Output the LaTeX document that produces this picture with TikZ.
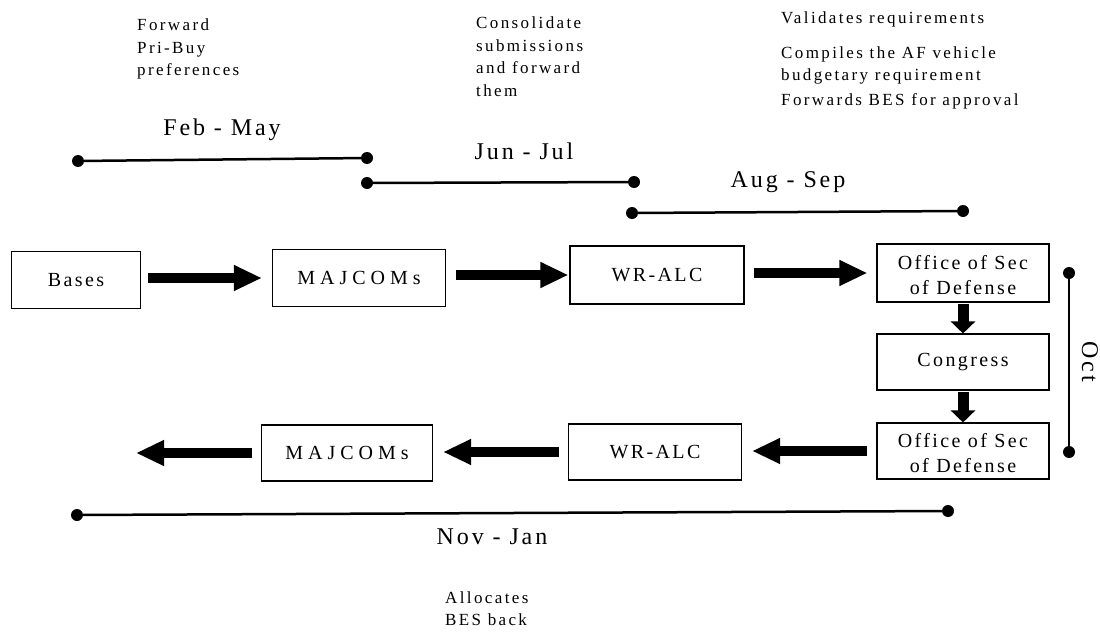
\documentclass[tikz,border=0pt]{standalone}
\usepackage{fontspec}
\setmainfont{Liberation Serif}
\newfontfamily\boxfont[LetterSpace=12]{Liberation Serif}
\newfontfamily\widefont[LetterSpace=25]{Liberation Serif}
\newfontfamily\notefont[LetterSpace=14]{Liberation Serif}
\newfontfamily\monthfont[LetterSpace=12]{Liberation Serif}
\usetikzlibrary{arrows.meta}
\begin{document}
\begin{tikzpicture}[x=1pt,y=-1pt,
  stage/.style={draw, line width=1.1pt, inner sep=0pt, align=center,
    font=\boxfont\fontsize{20}{25}\selectfont},
  wide/.style={font=\widefont\fontsize{20}{25}\selectfont},
  harrow/.style={line width=10pt, -{Triangle[length=28pt,width=24pt]}},
  varrow/.style={line width=11pt, -{Triangle[length=12pt,width=24pt]}},
  tl/.style={line width=2.5pt},
  dot/.style={circle, fill=black, inner sep=0pt, minimum size=12pt},
  month/.style={font=\monthfont\fontsize{24}{28}\selectfont, inner sep=0pt},
  note/.style={font=\notefont\fontsize{17}{22.5}\selectfont, inner sep=0pt, align=left}]
\useasboundingbox (0,0) rectangle (1100,634);
\fill[white] (0,0) rectangle (1100,634);

% boxes
\node[stage, minimum width=129pt, minimum height=57pt] (bases) at (76,280) {Bases};
\node[stage, wide, minimum width=173pt, minimum height=57pt] (maj1) at (359,278) {MAJCOMs};
\node[stage, minimum width=174pt, minimum height=58pt] (wr1) at (657,275) {WR-ALC};
\node[stage, minimum width=172pt, minimum height=58pt] (osd1) at (963,273) {\strut Office of Sec\\of Defense};
\node[stage, minimum width=172pt, minimum height=56pt] (cong) at (963,362) {Congress};
\node[stage, minimum width=172pt, minimum height=56pt] (osd2) at (963,451) {\strut Office of Sec\\of Defense};
\node[stage, minimum width=173pt, minimum height=56pt] (wr2) at (655,452) {WR-ALC};
\node[stage, wide, minimum width=171pt, minimum height=56pt] (maj2) at (347,453) {MAJCOMs};
\coordinate (out) at (136,453);

% block arrows
\draw[harrow, shorten <=7pt, shorten >=10pt] (bases.east |- maj1.west) -- (maj1.west);
\draw[harrow, shorten <=10pt, shorten >=1pt] (maj1.east |- wr1.west) -- (wr1.west);
\draw[harrow, shorten <=9pt, shorten >=9pt] (wr1.east |- osd1.west) -- (osd1.west);
\draw[varrow, shorten <=1pt] (osd1.south) -- (cong.north);
\draw[varrow, shorten <=1pt] (cong.south) -- (osd2.north);
\draw[harrow, shorten <=9pt, shorten >=10pt] (osd2.west) -- (wr2.east |- osd2.west);
\draw[harrow, shorten <=9pt, shorten >=10pt] (wr2.west) -- (maj2.east |- wr2.west);
\draw[harrow, shorten <=9pt] (maj2.west) -- (out);

% timelines
\node[dot] (fm1) at (78,161) {};
\node[dot] (fm2) at (367,158) {};
\draw[tl] (fm1) -- (fm2);
\node[month] (fml) at (222,130) {Feb - May};

\node[dot] (jj1) at (367,183) {};
\node[dot] (jj2) at (634,182) {};
\draw[tl] (jj1) -- (jj2);
\node[month] (jjl) at (524,151) {Jun - Jul};

\node[dot] (as1) at (632,213) {};
\node[dot] (as2) at (963,211) {};
\draw[tl] (as1) -- (as2);
\node[month] (asl) at (788,182) {Aug - Sep};

\node[dot] (oc1) at (1069,273) {};
\node[dot] (oc2) at (1069,452) {};
\draw[tl] (oc1) -- (oc2);
\node[month, rotate=-90] (ocl) at (1090,362) {Oct};

\node[dot] (nj1) at (77,515) {};
\node[dot] (nj2) at (948,511) {};
\draw[tl] (nj1) -- (nj2);
\node[month] (njl) at (492,537) {Nov - Jan};

% notes
\node[note, anchor=north west] (n1) at (137,19) {Forward\\Pri-Buy\\preferences};
\node[note, anchor=north west] (n2) at (476,17) {Consolidate\\submissions\\and forward\\them};
\node[note, anchor=north west] (n3) at (781,12) {Validates requirements\\[12pt]Compiles the AF vehicle\\budgetary requirement\\[2pt]Forwards BES for approval};
\node[note, anchor=north west] (n4) at (445,591) {Allocates\\BES back};
\end{tikzpicture}
\end{document}
